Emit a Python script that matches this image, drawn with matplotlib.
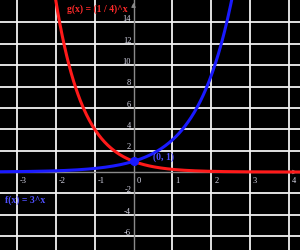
import numpy as np
import matplotlib.pyplot as plt

plt.rcParams['font.family'] = ['Liberation Serif', 'DejaVu Serif']

# functions shown
f_base = 3       # f(x) = 3^x
g_base = 0.25    # g(x) = (1/4)^x
x_ticks = [-3, -2, -1, 1, 2, 3, 4]
y_ticks = [-6, -4, -2, 2, 4, 6, 8, 10, 12, 14]
point = (0, 1)

x = np.linspace(-3.5, 4.3, 400)
f = f_base ** x
g = g_base ** x

fig = plt.figure(figsize=(3, 2.5), dpi=100, facecolor='black')
ax = fig.add_axes([0, 0, 1, 1])
ax.set_facecolor('black')
ax.set_xlim(-3.44, 4.29)
ax.set_ylim(-7.3, 16.1)
for s in ax.spines.values():
    s.set_visible(False)
ax.set_xticks([])
ax.set_yticks([])

# grid
for xv in x_ticks:
    ax.axvline(xv, color='#f2f2f2', lw=1.3, zorder=1)
for yv in y_ticks:
    ax.axhline(yv, color='#f2f2f2', lw=1.3, zorder=1)

# axes with small arrow heads
ax.axhline(0, color='#8a8a8a', lw=1.0, zorder=2)
ax.axvline(0, color='#8a8a8a', lw=1.0, zorder=2)
ax.annotate('', xy=(4.29, 0), xytext=(4.1, 0),
            arrowprops=dict(arrowstyle='-|>', color='#8a8a8a', lw=0.8, mutation_scale=6), zorder=2)
ax.annotate('', xy=(0, 16.1), xytext=(0, 15.3),
            arrowprops=dict(arrowstyle='-|>', color='#8a8a8a', lw=0.8, mutation_scale=6), zorder=2)

# tick labels
lab = '#d8d8e8'
for xv in x_ticks:
    ax.text(xv + 0.08, -0.45, str(xv), color=lab, fontsize=6, ha='left', va='top', zorder=3)
ax.text(0.08, -0.45, '0', color=lab, fontsize=6, ha='left', va='top', zorder=3)
for yv in y_ticks:
    ax.text(-0.06, yv + 0.3, str(yv), color=lab, fontsize=6, ha='right', va='center', zorder=3)

# curves
ax.plot(x, g, color='#ff1a1a', lw=2.2, zorder=4)
ax.plot(x, f, color='#1a1aff', lw=2.2, zorder=5)
ax.plot(*point, 'o', color='#1a1aff', ms=5.5, zorder=6)
ax.text(0.5, 1.4, '(0, 1)', color='#5050ff', fontsize=7, fontweight='bold',
        ha='left', va='center', zorder=6)

ax.text(-1.72, 15.2, 'g(x) = (1 / 4)^x', color='#ff2a2a', fontsize=7, fontweight='bold',
        ha='left', va='center', zorder=6)
ax.text(-3.3, -2.6, 'f(x) = 3^x', color='#5050ff', fontsize=7, fontweight='bold',
        ha='left', va='center', zorder=6)

fig.savefig('out.png', dpi=100, facecolor='black')
